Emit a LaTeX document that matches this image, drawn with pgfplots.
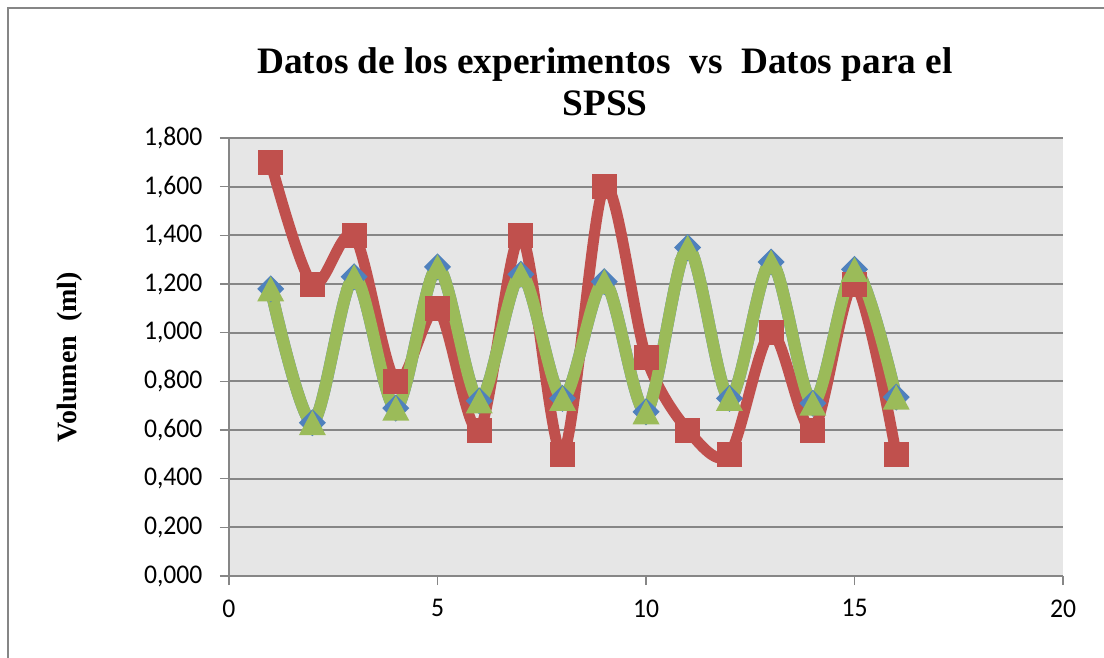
\documentclass[border=0pt]{standalone}
\usepackage{fontspec}
\setmainfont{Liberation Serif}
\newfontfamily\calibri[FakeStretch=0.95]{Carlito}
\usepackage{pgfplots}
\pgfplotsset{compat=1.18}

\definecolor{xlred}{HTML}{C0504D}
\definecolor{xlblue}{HTML}{4F81BD}
\definecolor{xlgreen}{HTML}{9BBB59}
\definecolor{xlgrid}{HTML}{868686}
\definecolor{xlbg}{HTML}{E6E6E6}

\pgfdeclareplotmark{xlsq}{\pgfpathrectangle{\pgfqpoint{-12.5pt}{-12.5pt}}{\pgfqpoint{25pt}{25pt}}\pgfusepathqfill}
\pgfdeclareplotmark{xldia}{\pgfpathmoveto{\pgfqpoint{0pt}{13.5pt}}\pgfpathlineto{\pgfqpoint{13.5pt}{0pt}}\pgfpathlineto{\pgfqpoint{0pt}{-13.5pt}}\pgfpathlineto{\pgfqpoint{-13.5pt}{0pt}}\pgfpathclose\pgfusepathqfill}
\pgfdeclareplotmark{xltri}{\pgfpathmoveto{\pgfqpoint{0pt}{12.5pt}}\pgfpathlineto{\pgfqpoint{13.5pt}{-12.5pt}}\pgfpathlineto{\pgfqpoint{-13.5pt}{-12.5pt}}\pgfpathclose\pgfusepathqfill}

\pgfplotstableread{
x y
1 1.18
2 0.63
3 1.23
4 0.69
5 1.27
6 0.72
7 1.24
8 0.73
9 1.21
10 0.675
11 1.35
12 0.73
13 1.29
14 0.71
15 1.26
16 0.735
}\bluedata
\pgfplotstableread{
x y
1 1.18
2 0.63
3 1.23
4 0.69
5 1.27
6 0.72
7 1.24
8 0.73
9 1.21
10 0.675
11 1.35
12 0.73
13 1.29
14 0.71
15 1.26
16 0.735
}\greendata
\pgfplotstableread{
x y
1 1.70
2 1.20
3 1.40
4 0.80
5 1.10
6 0.60
7 1.40
8 0.50
9 1.60
10 0.90
11 0.60
12 0.50
13 1.00
14 0.60
15 1.20
16 0.50
}\reddata

\begin{document}
\begin{tikzpicture}[x=1pt,y=1pt]
\useasboundingbox (0,0) rectangle (1104,-658);
\draw[xlgrid, line width=1.5pt] (8,-660) -- (8,-8) -- (1106,-8);
\node[anchor=base, font=\bfseries\fontsize{37.3}{40}\selectfont] at (605,-74) {Datos de los experimentos\ \ vs\ \ Datos para el};
\node[anchor=base, font=\bfseries\fontsize{37.3}{40}\selectfont] at (605,-116) {SPSS};
\begin{axis}[
  at={(229pt,-576pt)}, anchor=south west,
  scale only axis, width=834pt, height=438pt,
  xmin=0, xmax=20, ymin=0, ymax=1.8,
  xtick={0,5,10,15,20},
  ytick={0,0.2,0.4,0.6,0.8,1.0,1.2,1.4,1.6,1.8},
  axis lines*=left,
  axis line style={xlgrid, line width=2pt},
  tick style={xlgrid, line width=1.5pt},
  major tick length=9pt, tick align=outside,
  ymajorgrids, grid style={xlgrid, line width=2pt},
  axis background/.style={fill=xlbg},
  ticklabel style={font=\calibri\fontsize{27}{27}\selectfont},
  xticklabel style={yshift=-11pt, /pgf/number format/assume math mode=true},
  yticklabel style={xshift=-14pt, /pgf/number format/.cd, fixed, fixed zerofill, precision=3, use comma, assume math mode=true},
  ylabel={Volumen\ \ (ml)},
  every axis y label/.style={at={(axis description cs:-0.191,0.5)}, rotate=90, anchor=center, font=\bfseries\fontsize{28}{28}\selectfont},
  clip=false,
]
\addplot[xlblue, line width=12pt, smooth, tension=0.5, mark=xldia, mark options={xlblue}] table[x=x,y=y] {\bluedata};
\addplot[xlred, line width=11pt, smooth, tension=0.5, mark=xlsq, mark options={xlred}] table[x=x,y=y] {\reddata};
\addplot[xlgreen, line width=12pt, smooth, tension=0.5, mark=xltri, mark options={xlgreen}] table[x=x,y=y] {\greendata};
\end{axis}
\end{tikzpicture}
\end{document}
